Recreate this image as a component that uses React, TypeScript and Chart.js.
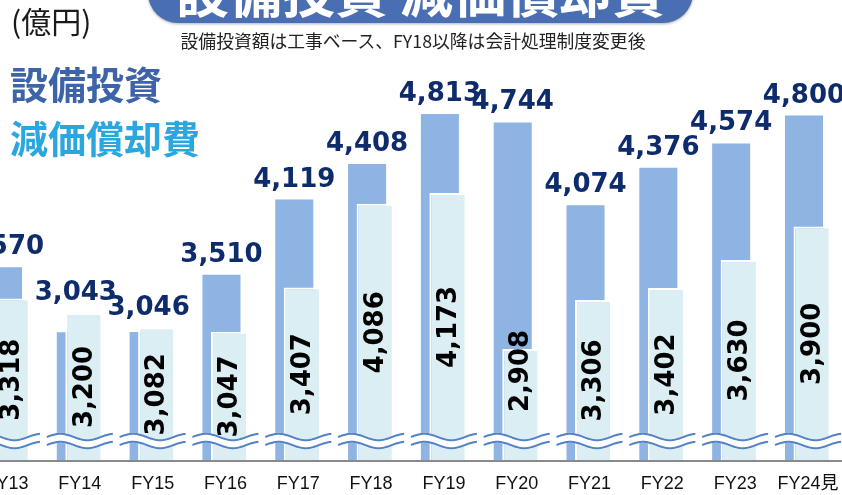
import React, { useEffect, useRef } from "react";
import { Chart, registerables } from "chart.js";

Chart.register(...registerables);

// ---- Data ----
const categories = ["FY13", "FY14", "FY15", "FY16", "FY17", "FY18", "FY19", "FY20", "FY21", "FY22", "FY23", "FY24見"];
const capexValues = [3570, 3043, 3046, 3510, 4119, 4408, 4813, 4744, 4074, 4376, 4574, 4800];
const depreciationValues = [3318, 3200, 3082, 3047, 3407, 4086, 4173, 2908, 3306, 3402, 3630, 3900];
const seriesNames = ["設備投資", "減価償却費"];
const yAxisMin = 2000;
const yAxisMax = 5500;
const unitLabel = "(億円)";
const titleText = "設備投資 減価償却費";
const noteText = "設備投資額は工事ベース、FY18以降は会計処理制度変更後";

const CAPEX_COLOR = "#8EB4E3";
const DEP_COLOR = "#DAEEF3";
const WAVE_COLOR = "#5283C8";
const CAPEX_LABEL_COLOR = "#0E2B6B";

const fmt = (v: number) => v.toLocaleString("en-US");

const overlayPlugin = {
  id: "overlayPlugin",
  afterDatasetsDraw(chart: any) {
    const ctx = chart.ctx as CanvasRenderingContext2D;
    const capMeta = chart.getDatasetMeta(0);
    const depMeta = chart.getDatasetMeta(1);
    // depreciation bars sit in front of capex bars
    depMeta.controller.draw();

    const xs = chart.scales.x;
    const ys = chart.scales.y;
    const base = ys.getPixelForValue(yAxisMin);

    // axis-break waves
    ctx.save();
    categories.forEach((_, i) => {
      const cx = xs.getPixelForValue(i);
      const x0 = cx - 33;
      const len = 66;
      const mid = base - 20;
      const path = (off: number) => {
        ctx.beginPath();
        for (let t = 0; t <= len; t += 1) {
          const px = x0 + t;
          const py = mid + off - 3.2 * Math.sin((2 * Math.PI * t) / 54);
          if (t === 0) ctx.moveTo(px, py);
          else ctx.lineTo(px, py);
        }
      };
      ctx.strokeStyle = "#FFFFFF";
      ctx.lineWidth = 10;
      path(0);
      ctx.stroke();
      ctx.strokeStyle = WAVE_COLOR;
      ctx.lineWidth = 2;
      path(-4);
      ctx.stroke();
      path(4);
      ctx.stroke();
    });
    ctx.restore();

    // capex labels
    ctx.save();
    ctx.font = "bold 26px 'DejaVu Sans', sans-serif";
    ctx.fillStyle = CAPEX_LABEL_COLOR;
    ctx.textAlign = "center";
    ctx.textBaseline = "alphabetic";
    capMeta.data.forEach((bar: any, i: number) => {
      const dep = depMeta.data[i];
      const top = Math.min(bar.y, dep.y);
      ctx.fillText(fmt(capexValues[i]), bar.x, top - 13);
    });
    ctx.restore();

    // depreciation labels (rotated)
    ctx.save();
    ctx.font = "bold 26px 'DejaVu Sans', sans-serif";
    ctx.fillStyle = "#000000";
    ctx.textAlign = "center";
    ctx.textBaseline = "middle";
    depMeta.data.forEach((bar: any, i: number) => {
      const h = base - bar.y;
      const cy = h < 120 ? bar.y + 22 : (bar.y + base) / 2;
      ctx.save();
      ctx.translate(bar.x + 1, cy);
      ctx.rotate(-Math.PI / 2);
      ctx.fillText(fmt(depreciationValues[i]), 0, 0);
      ctx.restore();
    });
    ctx.restore();
  },
};

export default function App() {
  const ref = useRef<HTMLCanvasElement>(null);

  useEffect(() => {
    const canvas = ref.current;
    if (!canvas) return;
    const chart = new Chart(canvas, {
      type: "bar",
      data: {
        labels: categories,
        datasets: [
          {
            label: seriesNames[0],
            data: capexValues,
            base: yAxisMin,
            backgroundColor: CAPEX_COLOR,
            borderWidth: 0,
            categoryPercentage: 0.22,
            barPercentage: 4.75,
          },
          {
            label: seriesNames[1],
            data: depreciationValues,
            base: yAxisMin,
            backgroundColor: DEP_COLOR,
            borderColor: "#FFFFFF",
            borderWidth: { top: 2, left: 2, right: 2, bottom: 0 },
            borderSkipped: "start",
            categoryPercentage: 0.22,
            barPercentage: 4.625,
          },
        ],
      } as any,
      options: {
        responsive: false,
        animation: false,
        layout: { padding: { left: 10.6, right: 15.6, top: 29.2, bottom: 0 } },
        plugins: {
          legend: { display: false },
          tooltip: { enabled: false },
          title: { display: false },
        },
        scales: {
          x: {
            grid: { display: false, drawTicks: false },
            border: { display: true, color: "#8A8A8A", width: 2, z: 1 },
            ticks: {
              color: "#111111",
              font: { family: "'Liberation Sans', Arial, 'Noto Sans CJK JP', sans-serif", size: 18 },
              padding: 12,
              maxRotation: 0,
              autoSkip: false,
            },
            afterFit: (s: any) => {
              s.height = 34;
            },
          },
          y: { display: false, min: yAxisMin, max: yAxisMax },
        },
      } as any,
      plugins: [overlayPlugin],
    });
    return () => chart.destroy();
  }, []);

  const cjk = "'Noto Sans CJK JP', sans-serif";

  return (
    <div style={{ position: "fixed", left: 0, top: 0, width: 842, height: 495, overflow: "hidden", background: "#FFFFFF" }}>
      <canvas ref={ref} width={900} height={495} style={{ position: "absolute", left: -40, top: 0, width: 900, height: 495 }} />
      <div
        style={{
          position: "absolute",
          left: 148,
          top: -40,
          width: 545,
          height: 63,
          background: "#4A6EB2",
          borderRadius: 30,
          boxShadow: "0 1px 3px rgba(0,0,0,0.3)",
        }}
      />
      <div
        style={{
          position: "absolute",
          left: 148,
          top: -36,
          width: 545,
          textAlign: "center",
          fontFamily: cjk,
          fontWeight: 700,
          fontSize: 53,
          lineHeight: "52px",
          color: "#FFFFFF",
          whiteSpace: "nowrap",
        }}
      >
        {titleText}
      </div>
      <div
        style={{
          position: "absolute",
          left: 113,
          top: 31,
          width: 600,
          textAlign: "center",
          fontFamily: cjk,
          fontSize: 17.8,
          lineHeight: "18px",
          color: "#222222",
          whiteSpace: "nowrap",
        }}
      >
        {noteText}
      </div>
      <div
        style={{
          position: "absolute",
          left: 11,
          top: 5,
          fontFamily: cjk,
          fontSize: 30,
          lineHeight: "30px",
          color: "#1A1A1A",
          whiteSpace: "nowrap",
        }}
      >
        {unitLabel}
      </div>
      <div
        style={{
          position: "absolute",
          left: 10,
          top: 64,
          fontFamily: cjk,
          fontWeight: 700,
          fontSize: 38,
          lineHeight: "38px",
          color: "#3D64A8",
          whiteSpace: "nowrap",
        }}
      >
        {seriesNames[0]}
      </div>
      <div
        style={{
          position: "absolute",
          left: 10,
          top: 118,
          fontFamily: cjk,
          fontWeight: 700,
          fontSize: 38,
          lineHeight: "38px",
          color: "#2BA7DF",
          whiteSpace: "nowrap",
        }}
      >
        {seriesNames[1]}
      </div>
    </div>
  );
}
